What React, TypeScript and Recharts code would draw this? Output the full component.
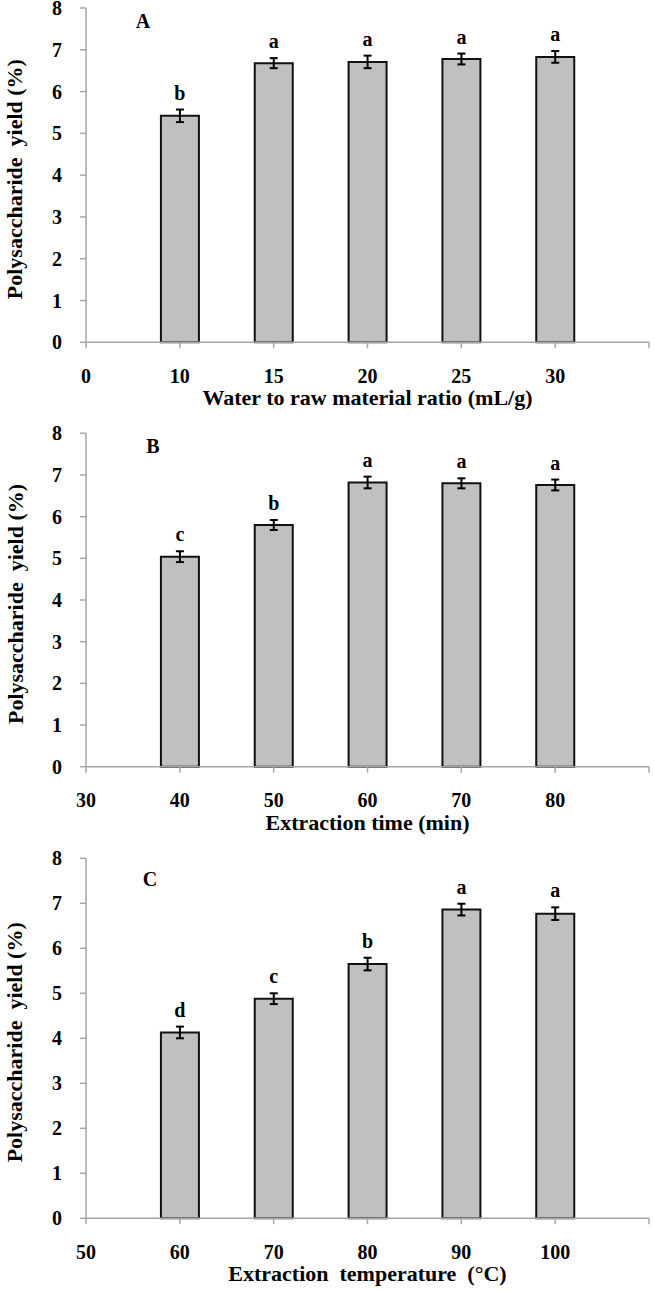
import React from "react";
import {
  Bar,
  BarChart,
  Customized,
  ErrorBar,
  LabelList,
  XAxis,
  YAxis,
} from "recharts";

const ratioTicks = ["0", "10", "15", "20", "25", "30"];
const ratioYield = [5.42, 6.68, 6.71, 6.78, 6.83];
const ratioErr = [0.15, 0.12, 0.15, 0.13, 0.14];
const ratioLetters = ["b", "a", "a", "a", "a"];

const timeTicks = ["30", "40", "50", "60", "70", "80"];
const timeYield = [5.04, 5.8, 6.82, 6.8, 6.76];
const timeErr = [0.13, 0.12, 0.14, 0.12, 0.13];
const timeLetters = ["c", "b", "a", "a", "a"];

const tempTicks = ["50", "60", "70", "80", "90", "100"];
const tempYield = [4.13, 4.88, 5.65, 6.86, 6.77];
const tempErr = [0.13, 0.12, 0.14, 0.13, 0.14];
const tempLetters = ["d", "c", "b", "a", "a"];

const yTicks = [0, 1, 2, 3, 4, 5, 6, 7, 8];

const serif = "'Liberation Serif', 'Times New Roman', serif";
const axisGray = "#a6a6a6";

const textStyle = {
  fontFamily: serif,
  fontWeight: "bold" as const,
  fill: "#000",
};

function Panel({
  tickLabels,
  values,
  errors,
  letters,
  xTitle,
  panel,
  panelX,
  panelY,
  top,
  height,
  plotTop,
  axisHeight,
}: {
  tickLabels: string[];
  values: number[];
  errors: number[];
  letters: string[];
  xTitle: string;
  panel: string;
  panelX: number;
  panelY: number;
  top: number;
  height: number;
  plotTop: number;
  axisHeight: number;
}) {
  const rows = values.map((v, i) => ({
    pos: i + 1,
    yield: v,
    err: errors[i],
    letter: letters[i],
  }));

  const renderLetter = (p: any) => {
    const i = p.index;
    const perUnit = p.height / values[i];
    const errTop = p.y - errors[i] * perUnit;
    return (
      <text
        x={p.x + p.width / 2}
        y={errTop - 10}
        textAnchor="middle"
        fontSize={20}
        {...textStyle}
      >
        {letters[i]}
      </text>
    );
  };

  const renderYTitle = (p: any) => {
    const vb = p.viewBox;
    const cx = 15;
    const cy = vb.y + vb.height / 2 + 4;
    return (
      <text
        x={cx}
        y={cy}
        transform={`rotate(-90, ${cx}, ${cy})`}
        textAnchor="middle"
        dominantBaseline="central"
        fontSize={22}
        style={{ whiteSpace: "pre" }}
        {...textStyle}
      >
        {"Polysaccharide  yield (%)"}
      </text>
    );
  };

  const renderXTitle = (p: any) => {
    const vb = p.viewBox;
    return (
      <text
        x={vb.x + vb.width / 2}
        y={vb.y + 63}
        textAnchor="middle"
        fontSize={22}
        style={{ whiteSpace: "pre" }}
        {...textStyle}
      >
        {xTitle}
      </text>
    );
  };

  return (
    <div style={{ position: "absolute", left: 0, top, width: 654, height }}>
      <BarChart
        width={654}
        height={height}
        data={rows}
        margin={{ top: plotTop, right: 5, bottom: 0, left: 0 }}
      >
        <XAxis
          dataKey="pos"
          type="number"
          domain={[0, 6]}
          ticks={[0, 1, 2, 3, 4, 5, 6]}
          interval={0}
          height={axisHeight}
          tickFormatter={(v: number) => tickLabels[v] ?? ""}
          tick={{ ...textStyle, fontSize: 20 }}
          tickSize={6}
          tickMargin={20}
          axisLine={{ stroke: axisGray, strokeWidth: 1.5 }}
          tickLine={{ stroke: axisGray, strokeWidth: 1.5 }}
          label={renderXTitle}
        />
        <YAxis
          type="number"
          domain={[0, 8]}
          ticks={yTicks}
          interval={0}
          width={86}
          tick={{ ...textStyle, fontSize: 20 }}
          tickSize={6}
          tickMargin={18}
          axisLine={{ stroke: axisGray, strokeWidth: 1.5 }}
          tickLine={{ stroke: axisGray, strokeWidth: 1.5 }}
          label={renderYTitle}
        />
        <Bar
          dataKey="yield"
          barSize={38}
          fill="#c0c0c0"
          stroke="#111"
          strokeWidth={2}
          isAnimationActive={false}
        >
          <ErrorBar
            dataKey="err"
            direction="y"
            width={4}
            stroke="#000"
            strokeWidth={2}
            isAnimationActive={false}
          />
          <LabelList dataKey="letter" content={renderLetter} />
        </Bar>
        <Customized
          component={
            <text x={panelX} y={panelY} textAnchor="middle" fontSize={20} {...textStyle}>
              {panel}
            </text>
          }
        />
      </BarChart>
    </div>
  );
}

export default function App() {
  return (
    <div
      style={{
        position: "absolute",
        left: 0,
        top: 0,
        width: 654,
        height: 1291,
        background: "#fff",
      }}
    >
      <Panel
        tickLabels={ratioTicks}
        values={ratioYield}
        errors={ratioErr}
        letters={ratioLetters}
        xTitle="Water to raw material ratio (mL/g)"
        panel="A"
        panelX={143}
        panelY={28}
        top={0}
        height={420}
        plotTop={8}
        axisHeight={77.7}
      />
      <Panel
        tickLabels={timeTicks}
        values={timeYield}
        errors={timeErr}
        letters={timeLetters}
        xTitle="Extraction time (min)"
        panel="B"
        panelX={153}
        panelY={33}
        top={420}
        height={430}
        plotTop={13.3}
        axisHeight={83.3}
      />
      <Panel
        tickLabels={tempTicks}
        values={tempYield}
        errors={tempErr}
        letters={tempLetters}
        xTitle="Extraction  temperature  (°C)"
        panel="C"
        panelX={150}
        panelY={36}
        top={850}
        height={441}
        plotTop={8.3}
        axisHeight={72.7}
      />
    </div>
  );
}
